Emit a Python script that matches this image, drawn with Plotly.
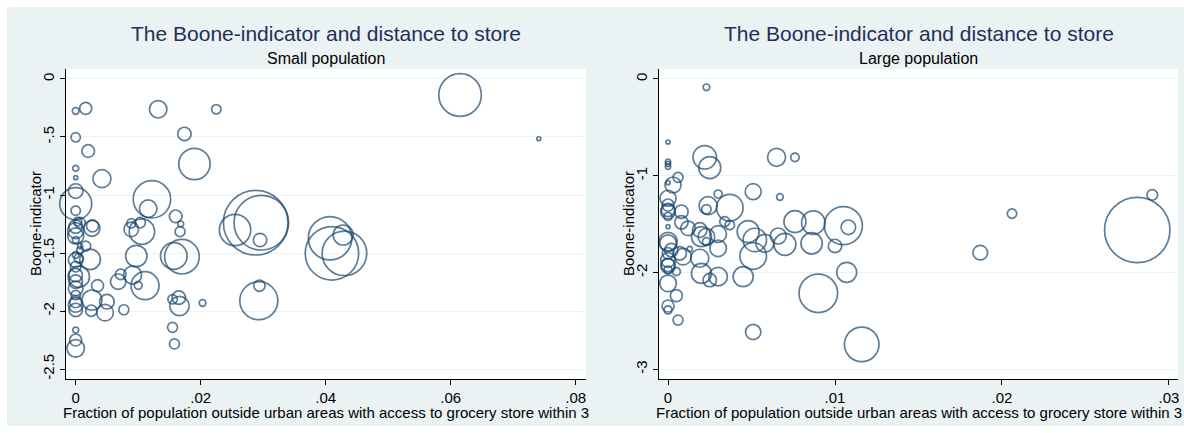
import plotly.graph_objects as go

# ---- Small population panel ----
small_share = [0.0000, 0.0016, 0.0132, 0.0225, 0.0000, 0.0174, 0.0020, 0.0190, 0.0000, 0.0000,
               0.0042, 0.0000, 0.0000, 0.0000, 0.0122, 0.0116, 0.0160, 0.0168, 0.0167, 0.0089,
               0.0089, 0.0103, 0.0106, 0.0026, 0.0027, 0.0007, 0.0003, 0.0000, 0.0000, 0.0000,
               0.0000, 0.0007, 0.0016, 0.0007, 0.0000, 0.0000, 0.0005, 0.0023, 0.0000, 0.0005,
               0.0000, 0.0000, 0.0035, 0.0000, 0.0000, 0.0000, 0.0000, 0.0000, 0.0026, 0.0050,
               0.0047, 0.0025, 0.0077, 0.0068, 0.0072, 0.0091, 0.0100, 0.0111, 0.0097, 0.0000,
               0.0000, 0.0000, 0.0157, 0.0170, 0.0155, 0.0165, 0.0166, 0.0203, 0.0155, 0.0158,
               0.0255, 0.0288, 0.0297, 0.0295, 0.0293, 0.0294, 0.0407, 0.0428, 0.0410, 0.0430,
               0.0615, 0.0741]
small_boone = [-0.276, -0.253, -0.261, -0.261, -0.503, -0.474, -0.621, -0.733, -0.770, -0.851,
               -0.859, -0.966, -1.075, -1.135, -1.037, -1.118, -1.184, -1.250, -1.316, -1.244,
               -1.296, -1.239, -1.316, -1.287, -1.267, -1.239, -1.230, -1.273, -1.307, -1.353,
               -1.388, -1.440, -1.440, -1.474, -1.517, -1.560, -1.546, -1.555, -1.618, -1.704,
               -1.690, -1.747, -1.782, -1.805, -1.862, -1.920, -1.948, -1.991, -1.905, -1.920,
               -2.014, -1.997, -1.989, -1.747, -1.684, -1.690, -1.779, -1.782, -1.526, -2.164,
               -2.250, -2.322, -1.526, -1.532, -1.899, -1.885, -1.957, -1.931, -2.141, -2.284,
               -1.302, -1.239, -1.239, -1.388, -1.911, -1.782, -1.373, -1.345, -1.503, -1.503,
               -0.138, -0.515]
small_weight = [11, 36, 76, 22, 22, 45, 40, 246, 9, 3,
                81, 53, 256, 22, 350, 76, 40, 9, 25, 22,
                53, 28, 161, 64, 36, 28, 18, 45, 64, 64,
                11, 7, 25, 11, 11, 53, 22, 106, 28, 114,
                45, 45, 36, 53, 22, 36, 53, 45, 100, 53,
                69, 32, 25, 59, 28, 81, 16, 196, 114, 9,
                36, 76, 177, 299, 22, 45, 94, 11, 25, 25,
                246, 1043, 745, 45, 361, 32, 471, 100, 713, 497,
                454, 2]

# ---- Large population panel ----
large_share = [0.0023, 0.0000, 0.0000, 0.0000, 0.0000, 0.0022, 0.0025, 0.0065, 0.0076, 0.0006,
               0.0003, 0.0000, 0.0000, 0.0000, 0.0000, 0.0000, 0.0000, 0.0008, 0.0008, 0.0012,
               0.0030, 0.0024, 0.0023, 0.0037, 0.0051, 0.0067, 0.0034, 0.0037, 0.0048, 0.0076,
               0.0087, 0.0105, 0.0108, 0.0066, 0.0070, 0.0086, 0.0100, 0.0058, 0.0052, 0.0051,
               0.0019, 0.0023, 0.0030, 0.0030, 0.0019, 0.0023, 0.0090, 0.0107, 0.0116, 0.0051,
               0.0045, 0.0030, 0.0025, 0.0020, 0.0009, 0.0005, 0.0000, 0.0005, 0.0000, 0.0000,
               0.0006, 0.0000, 0.0000, 0.0000, 0.0002, 0.0013, 0.0007, 0.0000, 0.0000, 0.0000,
               0.0020, 0.0206, 0.0187, 0.0281, 0.0290, 0.0000, 0.0000]
large_boone = [-0.086, -0.651, -0.854, -0.878, -0.906, -0.809, -0.916, -0.809, -0.809, -1.016,
               -1.095, -1.071, -1.232, -1.302, -1.353, -1.371, -1.526, -1.371, -1.481, -1.543,
               -1.188, -1.309, -1.346, -1.329, -1.164, -1.219, -1.474, -1.508, -1.577, -1.474,
               -1.484, -1.515, -1.532, -1.622, -1.708, -1.698, -1.725, -1.698, -1.663, -1.829,
               -1.560, -1.629, -1.601, -1.749, -1.852, -1.680, -2.214, -1.997, -2.741, -2.614,
               -2.042, -2.042, -2.077, -2.008, -1.835, -1.990, -2.111, -2.238, -2.345, -2.386,
               -2.490, -1.921, -1.870, -1.697, -1.767, -1.756, -1.801, -1.973, -1.680, -1.801,
               -1.629, -1.391, -1.794, -1.560, -1.198, -1.932, -1.420]
large_weight = [11, 3, 7, 7, 7, 137, 121, 81, 18, 25,
                64, 3, 64, 36, 45, 53, 1, 45, 45, 53,
                16, 81, 22, 177, 64, 11, 25, 22, 121, 121,
                137, 361, 53, 64, 121, 114, 45, 81, 137, 177,
                53, 69, 69, 69, 81, 16, 372, 100, 299, 59,
                100, 86, 45, 100, 69, 16, 69, 36, 36, 16,
                25, 45, 53, 69, 45, 7, 45, 16, 86, 32,
                100, 22, 53, 1069, 28, 53, 16]

small_xticks = [0, 0.02, 0.04, 0.06, 0.08]
small_xlabels = ["0", ".02", ".04", ".06", ".08"]
small_yticks = [0, -0.5, -1, -1.5, -2, -2.5]
small_ylabels = ["0", "-.5", "-1", "-1.5", "-2", "-2.5"]
large_xticks = [0, 0.01, 0.02, 0.03]
large_xlabels = ["0", ".01", ".02", ".03"]
large_yticks = [0, -1, -2, -3]
large_ylabels = ["0", "-1", "-2", "-3"]

TITLE = "The Boone-indicator and distance to store"
XTITLE = "Fraction of population outside urban areas with access to grocery store within 3"
YTITLE = "Boone-indicator"

W, H = 1184, 433
NAVY = "#1a476f"
REGION = "#eaf2f3"
FONT = "Liberation Sans, Arial, sans-serif"


def px_x(p):
    return p / W


def px_y(p):
    return 1 - p / H


fig = go.Figure()

for share, boone, weight, xa, ya in [
    (small_share, small_boone, small_weight, "x", "y"),
    (large_share, large_boone, large_weight, "x2", "y2"),
]:
    fig.add_trace(go.Scatter(
        x=share, y=boone, mode="markers", xaxis=xa, yaxis=ya,
        marker=dict(size=weight, sizemode="area", sizeref=0.5, sizemin=2,
                    color="rgba(0,0,0,0)", line=dict(color=NAVY, width=1.7)),
        showlegend=False, hoverinfo="skip", cliponaxis=False,
    ))

axis_common = dict(
    showline=True, linecolor="black", linewidth=1, ticks="outside", ticklen=5,
    tickcolor="black", tickwidth=1, zeroline=False,
    tickfont=dict(family=FONT, size=15, color="black"),
)

fig.update_layout(
    width=W, height=H,
    margin=dict(l=0, r=0, t=0, b=0),
    paper_bgcolor="white",
    plot_bgcolor="white",
    font=dict(family=FONT),
    xaxis=dict(domain=[px_x(66), px_x(586)], range=[-0.00155, 0.08165],
               tickvals=small_xticks, ticktext=small_xlabels, showgrid=False,
               anchor="y", **axis_common),
    yaxis=dict(domain=[px_y(379), px_y(69)], range=[-2.586, 0.086],
               tickvals=small_yticks, ticktext=small_ylabels, tickangle=-90,
               showgrid=True, gridcolor=REGION, gridwidth=1.2,
               anchor="x", **axis_common),
    xaxis2=dict(domain=[px_x(659), px_x(1178)], range=[-0.00054, 0.03054],
                tickvals=large_xticks, ticktext=large_xlabels, showgrid=False,
                anchor="y2", **axis_common),
    yaxis2=dict(domain=[px_y(379), px_y(69)], range=[-3.099, 0.103],
                tickvals=large_yticks, ticktext=large_ylabels, tickangle=-90,
                showgrid=True, gridcolor=REGION, gridwidth=1.2,
                anchor="x2", **axis_common),
)

# graph region background behind both panels
fig.add_shape(type="rect", xref="paper", yref="paper", layer="below",
              x0=px_x(7), x1=1, y0=px_y(426), y1=px_y(7),
              fillcolor=REGION, line=dict(width=0))
for x0, x1 in [(66, 586), (659, 1178)]:
    fig.add_shape(type="rect", xref="paper", yref="paper", layer="below",
                  x0=px_x(x0), x1=px_x(x1), y0=px_y(379), y1=px_y(69),
                  fillcolor="white", line=dict(width=0))

annotations = []
for cx, sub, ytx in [(326, "Small population", 35), (918.5, "Large population", 628)]:
    annotations.append(dict(text=TITLE, x=px_x(cx), y=px_y(33), xref="paper", yref="paper",
                            showarrow=False, xanchor="center", yanchor="middle",
                            font=dict(family=FONT, size=21, color="#1f2f5a")))
    annotations.append(dict(text=sub, x=px_x(cx), y=px_y(58), xref="paper", yref="paper",
                            showarrow=False, xanchor="center", yanchor="middle",
                            font=dict(family=FONT, size=16, color="black")))
    annotations.append(dict(text=XTITLE, x=px_x(cx), y=px_y(412), xref="paper", yref="paper",
                            showarrow=False, xanchor="center", yanchor="middle",
                            font=dict(family=FONT, size=15, color="black")))
    annotations.append(dict(text=YTITLE, x=px_x(ytx), y=px_y(224), xref="paper", yref="paper",
                            showarrow=False, xanchor="center", yanchor="middle", textangle=-90,
                            font=dict(family=FONT, size=15, color="black")))
fig.update_layout(annotations=annotations)

fig.write_html("out.html")
